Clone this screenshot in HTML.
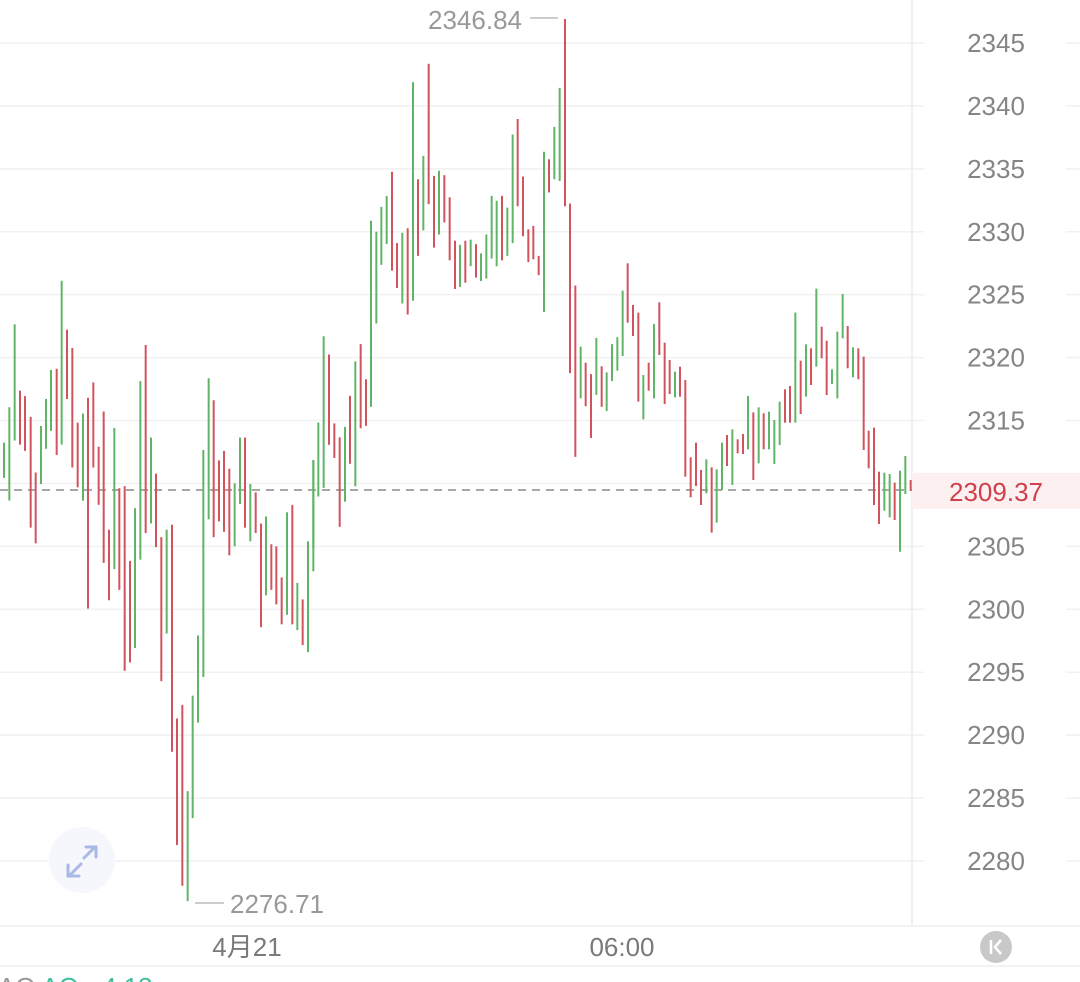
<!DOCTYPE html>
<html><head><meta charset="utf-8"><style>
html,body{margin:0;padding:0;background:#fff;width:1080px;height:982px;overflow:hidden}
svg{display:block}
text{font-family:"Liberation Sans","Noto Sans CJK SC",sans-serif}
</style></head><body>
<svg id="s" width="1080" height="982" viewBox="0 0 1080 982" xmlns="http://www.w3.org/2000/svg">
<g id="grid"></g>
<line x1="912" y1="0" x2="912" y2="926" stroke="#ececec" stroke-width="1.5"/>
<rect x="912" y="473" width="168" height="36" fill="#fdf0f0"/>
<line x1="0" y1="490" x2="912" y2="490" stroke="#a8a8a8" stroke-width="2" stroke-dasharray="8,6"/>
<g id="bars"></g>
<g id="labels" font-size="26" fill="#858585" text-anchor="middle"></g>
<text x="996" y="501" font-size="26" fill="#d0404c" text-anchor="middle">2309.37</text>
<line x1="530" y1="18" x2="558" y2="18" stroke="#bbb" stroke-width="1.5"/>
<text x="522" y="29" font-size="26" fill="#999" text-anchor="end">2346.84</text>
<line x1="195" y1="903" x2="224" y2="903" stroke="#bbb" stroke-width="1.5"/>
<text x="230" y="913" font-size="26" fill="#999">2276.71</text>
<circle cx="82" cy="860" r="33" fill="#f5f7fd"/>
<g stroke="#a9b8e4" stroke-width="3" fill="none" stroke-linecap="round">
<path d="M70 875 L81 864 M68 865 L68 876 L79 876"/>
<path d="M95 847 L84 858 M86 847 L96 847 L96 857"/>
</g>
<line x1="0" y1="926" x2="1080" y2="926" stroke="#efefef" stroke-width="1.5"/>
<line x1="0" y1="966" x2="1080" y2="966" stroke="#efefef" stroke-width="1.5"/>
<text x="247" y="956" font-size="26" fill="#7a7a7a" text-anchor="middle">4月21</text>
<text x="622" y="956" font-size="26" fill="#7a7a7a" text-anchor="middle">06:00</text>
<circle cx="996" cy="947" r="16" fill="#c8c8c8"/>
<path d="M991 940 L991 954 M1001 940 L995 947 L1001 954" stroke="#fff" stroke-width="2.5" fill="none"/>
<text x="-2" y="996" font-size="26" fill="#999">AO <tspan fill="#3fbf9a">AO: -4.13</tspan></text>
</svg>
<script>
var NS="http://www.w3.org/2000/svg";
function el(p,t,a){var e=document.createElementNS(NS,t);for(var k in a)e.setAttribute(k,a[k]);p.appendChild(e);return e;}
var grid=document.getElementById('grid'),labels=document.getElementById('labels'),bars=document.getElementById('bars');
for(var i=0;i<14;i++){var p=2345-5*i,y=43+i*62.92;
 el(grid,'line',{x1:0,y1:y,x2:924,y2:y,stroke:'#f1f1f1','stroke-width':1.5});
 el(grid,'line',{x1:1066,y1:y,x2:1080,y2:y,stroke:'#f1f1f1','stroke-width':1.5});
 if(p!=2310&&p!=2275){var t=el(labels,'text',{x:996,y:y+9});t.textContent=p;}
}
var G='#5fb565',R='#d2535e';
var z1=[[12,440,525,'g'],[28,355,580,'g'],[44,155,435,'g'],[60,315,445,'r'],[75,328,460,'r'],[92,378,645,'r'],[107,512,683,'r'],[123,400,540,'g'],[138,335,455,'g'],[153,265,412,'g'],[170,262,470,'r'],[185,50,445,'g'],[201,168,335,'r'],[217,212,500,'r'],[233,392,548,'r'],[249,370,580,'g'],[264,332,840,'r'],[280,295,500,'r'],[296,450,590,'r'],[311,365,730,'r'],[327,650,820,'r'],[343,405,745,'g'],[358,550,795,'r'],[374,545,990,'r'],[390,725,970,'r'],[405,598,935,'g'],[421,292,722,'g'],[437,205,658,'r'],[453,428,635,'g'],[468,515,692,'r'],[484,668,1015,'r'],[500,650,900,'g'],[516,638,1185,'r'],[531,1105,1410,'r'],[547,1072,1508,'r'],[563,1280,1545,'g'],[578,1050,1345,'g'],[594,905,1115,'g'],[610,458,1005,'g'],[626,285,625,'g'],[641,338,668,'r'],[657,483,630,'r'],[672,460,655,'r'],[688,503,712,'r'],[704,538,690,'g'],[720,428,588,'g'],[735,428,645,'r'],[751,540,678,'g'],[767,560,658,'r'],[783,635,885,'r'],[798,618,808,'g'],[814,685,795,'r'],[829,690,830,'r'],[845,765,878,'r'],[861,608,855,'g'],[877,590,878,'r'],[892,778,892,'g'],[908,818,928,'r'],[924,678,945,'g'],[940,482,750,'g'],[955,392,570,'g']];
var z2=[[40,1335,1590,'g'],[71,975,1415,'g'],[87,1028,1290,'r'],[103,1228,1328,'r'],[119,1268,1528,'r'],[135,1238,1455,'g'],[150,1148,1345,'r'],[166,1048,1410,'g'],[182,998,1242,'r'],[198,1100,1235,'r'],[213,640,1180,'g'],[229,672,938,'g'],[244,600,768,'g'],[260,568,708,'g'],[276,498,785,'r'],[291,705,835,'r'],[307,675,880,'g'],[323,662,912,'r'],[339,238,872,'g'],[354,520,742,'r'],[370,452,668,'g'],[386,185,592,'r'],[402,510,718,'r'],[417,495,680,'g'],[433,508,645,'r'],[449,572,755,'r'],[465,698,838,'r'],[480,710,832,'g'],[496,698,820,'r'],[512,695,772,'g'],[528,708,805,'r'],[543,735,815,'g'],[559,680,808,'g'],[575,568,750,'g'],[590,582,772,'g'],[606,568,755,'r'],[622,602,742,'g'],[638,390,705,'g'],[653,345,598,'r'],[669,512,685,'r'],[685,665,760,'r'],[700,655,752,'r'],[716,742,798,'r'],[732,440,905,'g'],[747,462,558,'r'],[763,368,520,'g'],[779,255,525,'g'],[795,55,598,'r'],[810,590,1082,'r'],[826,828,1325,'r'],[842,1005,1155,'g'],[857,1052,1178,'r'],[873,1085,1270,'r'],[889,980,1145,'g'],[905,1062,1180,'r'],[920,1080,1192,'g'],[936,998,1105,'g'],[952,978,1075,'g']];
var z3=[[68,122,318,'g'],[83,40,218,'r'],[99,165,258,'r'],[115,188,455,'r'],[130,375,508,'g'],[146,338,422,'r'],[162,222,445,'g'],[178,157,315,'r'],[194,278,462,'r'],[209,330,432,'r'],[225,365,442,'g'],[240,350,440,'r'],[256,390,680,'r'],[272,622,742,'r'],[288,578,708,'r'],[303,660,765,'r'],[319,628,730,'g'],[335,652,848,'r'],[350,658,818,'g'],[366,578,720,'g'],[381,555,648,'r'],[397,538,705,'g'],[413,568,610,'r'],[429,552,612,'r'],[444,438,598,'g'],[460,487,690,'r'],[476,472,640,'g'],[491,490,598,'r'],[507,485,598,'g'],[523,510,642,'g'],[539,455,585,'g'],[555,418,518,'r'],[570,408,518,'r'],[586,188,518,'g'],[602,332,492,'r'],[618,283,440,'g'],[633,295,405,'r'],[649,116,350,'g'],[665,230,325,'r'],[680,272,435,'r'],[696,358,402,'g'],[712,245,445,'g'],[728,132,265,'g'],[743,228,355,'r'],[759,292,382,'g'],[775,295,388,'r'],[791,320,600,'r'],[806,542,655,'r'],[822,533,765,'r'],[837,665,822,'r'],[853,668,782,'g'],[869,672,802,'g'],[884,698,810,'r'],[900,662,905,'g'],[916,618,732,'g'],[932,690,722,'r']];
function add(arr,ox,oy,sx,sy){arr.forEach(function(b){var x=ox+b[0]/sx;
 el(bars,'line',{x1:x,y1:oy+b[1]/sy,x2:x,y2:oy+b[2]/sy,stroke:b[3]=='g'?G:R,'stroke-width':2});});}
add(z1,0,260,3,2.41);add(z2,300,0,3,2.9);add(z3,600,250,3,3);
</script>
</body></html>
